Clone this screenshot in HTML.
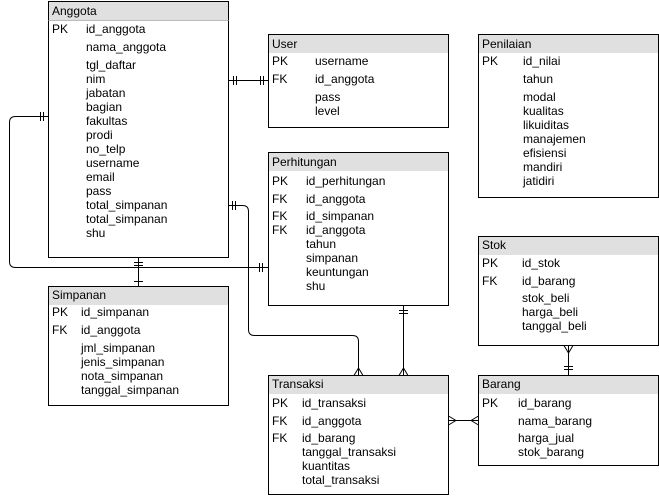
<!DOCTYPE html>
<html><head><meta charset="utf-8"><style>
html,body{margin:0;padding:0;background:#fff;width:659px;height:496px;overflow:hidden}
svg text{font-family:"Liberation Sans",sans-serif;font-size:12px;fill:#000}
</style></head><body>
<svg width="659" height="496" xmlns="http://www.w3.org/2000/svg">
<g fill="none" stroke="#000" stroke-width="1">
<path d="M228.5 80.5H268.5M233.5 76v9M236.5 76v9M260.5 76v9M263.5 76v9"/>
<path d="M48.5 116.5H15.5Q9.5 116.5 9.5 122.5V261.5Q9.5 267.5 15.5 267.5H268.5M40.5 112v9M43.5 112v9M259.5 263v9M262.5 263v9"/>
<path d="M138.5 257.5V286.5M134 262.5h9M134 265.5h9M134 281.5h9" />
<path d="M228.5 205.5H242.5Q248.5 205.5 248.5 211.5V329.5Q248.5 335.5 254.5 335.5H352.5Q358.5 335.5 358.5 341.5V375.5M232.5 201v9M235.5 201v9M358.5 368L354 375.5M358.5 368L363 375.5"/>
<path d="M403.5 305.5V375.5M399 310.5h9M399 313.5h9M403.5 368L399 375.5M403.5 368L408 375.5"/>
<path d="M568.5 345.5V375.5M568.5 353L564 345.5M568.5 353L573 345.5M564 366.5h9M564 369.5h9"/>
<path d="M448.5 420.5H478.5M456 420.5L448.5 416M456 420.5L448.5 425M471 420.5L478.5 416M471 420.5L478.5 425"/>
</g>
<g stroke="#000" stroke-width="1">
<rect x="48.5" y="1.5" width="180" height="256" fill="#fff"/><rect x="49" y="2" width="179" height="18" fill="#e0e0e0" stroke="none"/><line x1="48.5" y1="20.5" x2="228.5" y2="20.5" stroke="#bbb"/>
<rect x="268.5" y="34.5" width="180" height="93" fill="#fff"/><rect x="269" y="35" width="179" height="18" fill="#e0e0e0" stroke="none"/>
<rect x="478.5" y="34.5" width="180" height="163" fill="#fff"/><rect x="479" y="35" width="179" height="18" fill="#e0e0e0" stroke="none"/>
<rect x="268.5" y="152.5" width="180" height="153" fill="#fff"/><rect x="269" y="153" width="179" height="18" fill="#e0e0e0" stroke="none"/>
<rect x="478.5" y="236.5" width="180" height="109" fill="#fff"/><rect x="479" y="237" width="179" height="18" fill="#e0e0e0" stroke="none"/>
<rect x="48.5" y="286.5" width="180" height="119" fill="#fff"/><rect x="49" y="287" width="179" height="18" fill="#e0e0e0" stroke="none"/>
<rect x="268.5" y="375.5" width="180" height="119" fill="#fff"/><rect x="269" y="376" width="179" height="18" fill="#e0e0e0" stroke="none"/>
<rect x="478.5" y="375.5" width="180" height="90" fill="#fff"/><rect x="479" y="376" width="179" height="18" fill="#e0e0e0" stroke="none"/>
</g>
<text x="52" y="15">Anggota</text>
<text x="52" y="33">PK</text><text x="86" y="33">id_anggota</text>
<text x="86" y="51">nama_anggota</text><text x="86" y="69">tgl_daftar</text>
<text x="86" y="83">nim</text><text x="86" y="97">jabatan</text><text x="86" y="111">bagian</text>
<text x="86" y="125">fakultas</text><text x="86" y="139">prodi</text><text x="86" y="153">no_telp</text>
<text x="86" y="167">username</text><text x="86" y="181">email</text><text x="86" y="195">pass</text>
<text x="86" y="209">total_simpanan</text><text x="86" y="223">total_simpanan</text><text x="86" y="237">shu</text>
<text x="272" y="48">User</text>
<text x="272" y="65">PK</text><text x="315" y="65">username</text>
<text x="272" y="83">FK</text><text x="315" y="83">id_anggota</text>
<text x="315" y="101">pass</text><text x="315" y="115">level</text>
<text x="482" y="48">Penilaian</text>
<text x="482" y="65">PK</text><text x="523" y="65">id_nilai</text>
<text x="523" y="83">tahun</text><text x="523" y="101">modal</text><text x="523" y="115">kualitas</text>
<text x="523" y="129">likuiditas</text><text x="523" y="143">manajemen</text><text x="523" y="157">efisiensi</text>
<text x="523" y="171">mandiri</text><text x="523" y="185">jatidiri</text>
<text x="272" y="166">Perhitungan</text>
<text x="272" y="185">PK</text><text x="306" y="185">id_perhitungan</text>
<text x="272" y="203">FK</text><text x="306" y="203">id_anggota</text>
<text x="272" y="220">FK</text><text x="306" y="220">id_simpanan</text>
<text x="272" y="234">FK</text><text x="306" y="234">id_anggota</text>
<text x="306" y="248">tahun</text><text x="306" y="262">simpanan</text><text x="306" y="276">keuntungan</text><text x="306" y="290">shu</text>
<text x="482" y="249">Stok</text>
<text x="482" y="267">PK</text><text x="522" y="267">id_stok</text>
<text x="482" y="285">FK</text><text x="522" y="285">id_barang</text>
<text x="522" y="302">stok_beli</text><text x="522" y="316">harga_beli</text><text x="522" y="330">tanggal_beli</text>
<text x="52" y="299">Simpanan</text>
<text x="52" y="316">PK</text><text x="81" y="316">id_simpanan</text>
<text x="52" y="334">FK</text><text x="81" y="334">id_anggota</text>
<text x="81" y="352">jml_simpanan</text><text x="81" y="366">jenis_simpanan</text><text x="81" y="380">nota_simpanan</text><text x="81" y="394">tanggal_simpanan</text>
<text x="272" y="388">Transaksi</text>
<text x="272" y="407">PK</text><text x="302" y="407">id_transaksi</text>
<text x="272" y="425">FK</text><text x="302" y="425">id_anggota</text>
<text x="272" y="442">FK</text><text x="302" y="442">id_barang</text>
<text x="302" y="456">tanggal_transaksi</text><text x="302" y="470">kuantitas</text><text x="302" y="484">total_transaksi</text>
<text x="482" y="388">Barang</text>
<text x="482" y="407">PK</text><text x="518" y="407">id_barang</text>
<text x="518" y="425">nama_barang</text><text x="518" y="442">harga_jual</text><text x="518" y="456">stok_barang</text>
</svg>
</body></html>
